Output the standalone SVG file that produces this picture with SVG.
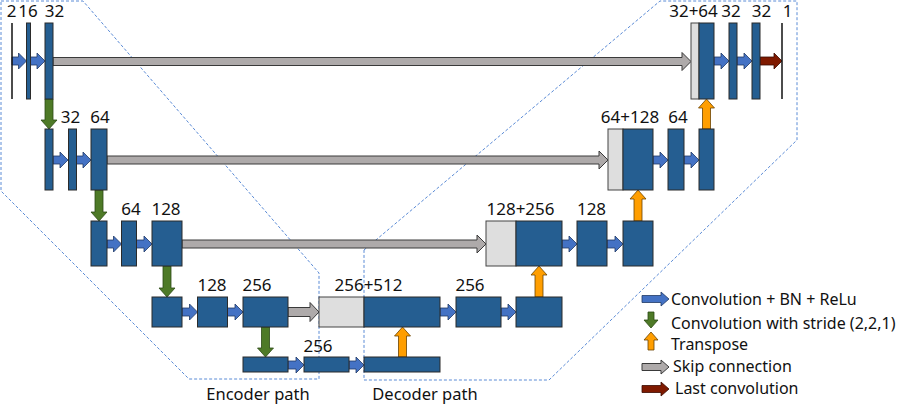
<svg xmlns="http://www.w3.org/2000/svg" width="900" height="408" viewBox="0 0 900 408">
<style>
  .box{fill:#255E91;stroke:#2b2b2b;stroke-width:1}
  .cat{fill:#DEDEDE;stroke:#444;stroke-width:1}
  .ln{stroke:#111;stroke-width:1.5}
  .conv{fill:#4472C4;stroke:#1F3864;stroke-width:0.8}
  .down{fill:#4E7A27;stroke:#2C4A15;stroke-width:0.8}
  .up{fill:#FF9E00;stroke:#6B4300;stroke-width:0.8}
  .skip{fill:#AEAAAA;stroke:#3A3A3A;stroke-width:1}
  .last{fill:#7F1A00;stroke:#3A0A00;stroke-width:0.8}
  .outline{fill:none;stroke:#5B8BD6;stroke-width:1;stroke-dasharray:3 2}
  text{font-family:"Noto Sans","Liberation Sans",Arial,sans-serif;font-size:16px;fill:#111}
  .lbl{text-anchor:middle;font-size:17px}
  .cap{text-anchor:middle;font-size:16.5px}
</style>
<g id="outlines">
  <polygon id="encoder-region" class="outline" points="1,1 83,1 319,273 319,379 189,379 1,191"/>
  <polygon id="decoder-region" class="outline" points="364,250 660,1 797,1 797,140 549,380 364,380"/>
</g>
<g id="connectors">
  <path class="skip" d="M53 57.5 H682 V52.5 L691 61.5 L682 70.5 V65.5 H53 Z"/>
  <path class="skip" d="M107 156 H599 V151 L608 160 L599 169 V164 H107 Z"/>
  <path class="skip" d="M182 240 H477 V235 L486 244 L477 253 V248 H182 Z"/>
  <path class="skip" d="M288 307.5 H310 V302.5 L319 312 L310 321.5 V316.5 H288 Z"/>
  <path class="conv" d="M12 57 H18.5 V53 L26.5 61 L18.5 69 V65 H12 Z"/>
  <path class="conv" d="M30.5 57 H37 V53 L45 61 L37 69 V65 H30.5 Z"/>
  <path class="conv" d="M53 156 H60 V152 L68 160 L60 168 V164 H53 Z"/>
  <path class="conv" d="M76.5 156 H83 V152 L91 160 L83 168 V164 H76.5 Z"/>
  <path class="conv" d="M107 240 H113.5 V236 L121.5 244 L113.5 252 V248 H107 Z"/>
  <path class="conv" d="M136.5 240 H144 V236 L152 244 L144 252 V248 H136.5 Z"/>
  <path class="conv" d="M182 308 H189.5 V304 L197.5 312 L189.5 320 V316 H182 Z"/>
  <path class="conv" d="M227.5 308 H235 V304 L243 312 L235 320 V316 H227.5 Z"/>
  <path class="conv" d="M288 361 H296 V357 L304 365 L296 373 V369 H288 Z"/>
  <path class="conv" d="M349 361 H356 V357 L364 365 L356 373 V369 H349 Z"/>
  <path class="conv" d="M440 308 H448 V304 L456 312 L448 320 V316 H440 Z"/>
  <path class="conv" d="M501 308 H508 V304 L516 312 L508 320 V316 H501 Z"/>
  <path class="conv" d="M562 240 H569 V236 L577 244 L569 252 V248 H562 Z"/>
  <path class="conv" d="M607 240 H615 V236 L623 244 L615 252 V248 H607 Z"/>
  <path class="conv" d="M653 156 H660 V152 L668 160 L660 168 V164 H653 Z"/>
  <path class="conv" d="M684 156 H691 V152 L699 160 L691 168 V164 H684 Z"/>
  <path class="conv" d="M714 57 H721 V53 L729 61 L721 69 V65 H714 Z"/>
  <path class="conv" d="M737 57 H744 V53 L752 61 L744 69 V65 H737 Z"/>
  <path class="last" d="M760 57 H774 V53 L782 61 L774 69 V65 H760 Z"/>
  <path class="down" d="M45 99 H53 V120 H57 L49 129 L41 120 H45 Z"/>
  <path class="down" d="M95 190 H103 V212 H107 L99 221 L91 212 H95 Z"/>
  <path class="down" d="M163 266 H171 V288 H175 L167 297 L159 288 H163 Z"/>
  <path class="down" d="M261.5 327 H269.5 V348 H273.5 L265.5 357 L257.5 348 H261.5 Z"/>
  <path class="up" d="M398.5 357 V336 H394.5 L402.5 327 L410.5 336 H406.5 V357 Z"/>
  <path class="up" d="M535 297 V275 H531 L539 266 L547 275 H543 V297 Z"/>
  <path class="up" d="M634 221 V199 H630 L638 190 L646 199 H642 V221 Z"/>
  <path class="up" d="M702.5 129 V108 H698.5 L706.5 99 L714.5 108 H710.5 V129 Z"/>
</g>
<g id="enc1-in"><line class="ln" x1="12" y1="23" x2="12" y2="99"/><text class="lbl" x="11.5" y="17">2</text></g>
<g id="enc1-a"><rect class="box" x="26.5" y="23" width="4" height="76"/><text class="lbl" x="28" y="17">16</text></g>
<g id="enc1-b"><rect class="box" x="45" y="23" width="8" height="76"/><text class="lbl" x="54.5" y="17">32</text></g>
<g id="enc2-a"><rect class="box" x="45" y="129" width="8" height="61"/></g>
<g id="enc2-b"><rect class="box" x="68.5" y="129" width="8" height="61"/><text class="lbl" x="70.5" y="123">32</text></g>
<g id="enc2-c"><rect class="box" x="91" y="129" width="16" height="61"/><text class="lbl" x="100" y="123">64</text></g>
<g id="enc3-a"><rect class="box" x="91" y="221" width="16" height="45"/></g>
<g id="enc3-b"><rect class="box" x="121.5" y="221" width="15" height="45"/><text class="lbl" x="131" y="214.5">64</text></g>
<g id="enc3-c"><rect class="box" x="152" y="221" width="30" height="45"/><text class="lbl" x="166" y="214.5">128</text></g>
<g id="enc4-a"><rect class="box" x="152" y="297" width="30" height="30"/></g>
<g id="enc4-b"><rect class="box" x="197.5" y="297" width="30" height="30"/><text class="lbl" x="212" y="290.5">128</text></g>
<g id="enc4-c"><rect class="box" x="243" y="297" width="45" height="30"/><text class="lbl" x="257" y="290.5">256</text></g>
<g id="bott-a"><rect class="box" x="243" y="357" width="45" height="15"/></g>
<g id="bott-b"><rect class="box" x="304" y="357" width="45" height="15"/><text class="lbl" x="318" y="351.5">256</text></g>
<g id="bott-c"><rect class="box" x="364" y="357" width="76" height="15"/></g>
<g id="dec4-cat"><rect class="cat" x="319" y="297" width="45" height="30"/><rect class="box" x="364" y="297" width="76" height="30"/><text class="lbl" x="368.5" y="290.5">256+512</text></g>
<g id="dec4-b"><rect class="box" x="456" y="297" width="45" height="30"/><text class="lbl" x="470" y="290.5">256</text></g>
<g id="dec4-c"><rect class="box" x="516" y="297" width="46" height="30"/></g>
<g id="dec3-cat"><rect class="cat" x="486" y="221" width="30" height="45"/><rect class="box" x="516" y="221" width="46" height="45"/><text class="lbl" x="520.5" y="214.5">128+256</text></g>
<g id="dec3-b"><rect class="box" x="577" y="221" width="30" height="45"/><text class="lbl" x="591.5" y="214.5">128</text></g>
<g id="dec3-c"><rect class="box" x="623" y="221" width="30" height="45"/></g>
<g id="dec2-cat"><rect class="cat" x="608" y="129" width="15" height="61"/><rect class="box" x="623" y="129" width="30" height="61"/><text class="lbl" x="630" y="123">64+128</text></g>
<g id="dec2-b"><rect class="box" x="668" y="129" width="16" height="61"/><text class="lbl" x="678" y="123">64</text></g>
<g id="dec2-c"><rect class="box" x="699" y="129" width="15" height="61"/></g>
<g id="dec1-cat"><rect class="cat" x="691" y="23" width="8" height="76"/><rect class="box" x="699" y="23" width="15" height="76"/><text class="lbl" x="693.5" y="17">32+64</text></g>
<g id="dec1-b"><rect class="box" x="729" y="23" width="8" height="76"/><text class="lbl" x="731" y="17">32</text></g>
<g id="dec1-c"><rect class="box" x="752" y="23" width="8" height="76"/><text class="lbl" x="761.5" y="17">32</text></g>
<g id="dec1-out"><line class="ln" x1="782" y1="23" x2="782" y2="99"/><text class="lbl" x="787.5" y="17">1</text></g>
<g id="captions">
  <text x="258" y="400" class="cap">Encoder path</text>
  <text x="425" y="400" class="cap">Decoder path</text>
</g>
<g id="legend">
  <path class="conv" d="M642 295.5 H661 V292 L669 299 L661 306 V302.5 H642 Z"/>
  <text x="671" y="304.5">Convolution + BN + ReLu</text>
  <path class="down" d="M648 312 H654 V320 H658 L651 328 L644 320 H648 Z"/>
  <text x="671" y="328.5">Convolution with stride (2,2,1)</text>
  <path class="up" d="M648 350 V340 H644 L651 332 L658 340 H654 V350 Z"/>
  <text x="671" y="350">Transpose</text>
  <path class="skip" d="M642 363.5 H661 V360 L669 367 L661 374 V370.5 H642 Z"/>
  <text x="673" y="372">Skip connection</text>
  <path class="last" d="M642 385.5 H661 V382 L669 389 L661 396 V392.5 H642 Z"/>
  <text x="675" y="394">Last convolution</text>
</g>
</svg>
